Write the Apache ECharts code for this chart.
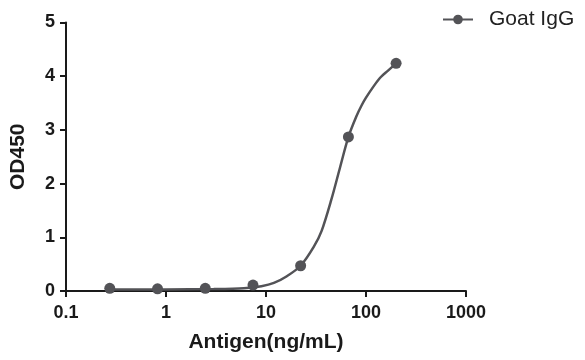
<!DOCTYPE html>
<html><head><meta charset="utf-8">
<script src="https://cdn.jsdelivr.net/npm/echarts@6/dist/echarts.min.js"></script>
<style>html,body{margin:0;padding:0;background:#fff}#c{width:585px;height:360px}</style>
</head><body><div id="c"></div>
<script>
const seriesName = 'Goat IgG';
const concentrations = [0.274, 0.823, 2.47, 7.41, 22.2, 66.7, 200];
const od450 = [0.05, 0.04, 0.05, 0.11, 0.47, 2.87, 4.24];
// fitted curve
const curveX = [0.274, 1, 3, 6, 9, 12, 16, 22.2, 30, 36, 45, 55, 66.7, 80, 90, 100, 120, 140, 165, 200];
const curveY = [0.03, 0.03, 0.035, 0.05, 0.09, 0.15, 0.27, 0.47, 0.82, 1.12, 1.70, 2.30, 2.87, 3.25, 3.45, 3.60, 3.82, 3.98, 4.10, 4.24];
const xTicks = [0.1, 1, 10, 100, 1000];
const yTicks = [0, 1, 2, 3, 4, 5];

const font = 'Liberation Sans, Arial, sans-serif';
const ink = '#1a1a1a';
const grey = '#535357';
const chart = echarts.init(document.getElementById('c'), null, {renderer: 'canvas'});
chart.setOption({
  animation: false,
  backgroundColor: '#fff',
  grid: {left: 62, right: 119, top: 22.5, bottom: 69, containLabel: false},
  legend: {
    data: [seriesName], left: 442, top: 9, itemWidth: 30, itemHeight: 12, itemGap: 10,
    padding: 0,
    textStyle: {fontFamily: font, fontSize: 21, color: '#222', padding: [0, 0, 0, 11]}
  },
  xAxis: {
    type: 'log', logBase: 10, min: xTicks[0], max: xTicks[xTicks.length - 1],
    name: 'Antigen(ng/mL)', nameLocation: 'middle', nameGap: 41,
    nameTextStyle: {fontFamily: font, fontSize: 21, fontWeight: 'bold', color: ink},
    axisLine: {lineStyle: {color: ink, width: 2}},
    axisTick: {show: true, inside: false, length: 6, lineStyle: {color: ink, width: 2}},
    minorTick: {show: false},
    splitLine: {show: false},
    axisLabel: {fontFamily: font, fontSize: 18, fontWeight: 'bold', color: ink, margin: 13,
      formatter: v => String(v)}
  },
  yAxis: {
    type: 'value', min: yTicks[0], max: yTicks[yTicks.length - 1], interval: 1,
    name: 'OD450', nameLocation: 'middle', nameGap: 37, nameRotate: 90,
    nameTextStyle: {fontFamily: font, fontSize: 21, fontWeight: 'bold', color: ink},
    axisLine: {show: true, lineStyle: {color: ink, width: 2}},
    axisTick: {show: true, inside: false, length: 6, lineStyle: {color: ink, width: 2}},
    splitLine: {show: false},
    axisLabel: {fontFamily: font, fontSize: 18, fontWeight: 'bold', color: ink, margin: 11}
  },
  series: [
    {
      name: seriesName, type: 'line', smooth: 0.3,
      symbol: 'circle', symbolSize: 10, showSymbol: false,
      itemStyle: {color: grey, opacity: 1},
      lineStyle: {color: grey, width: 2.5},
      data: curveX.map((x, i) => [x, curveY[i]]),
      z: 2
    },
    {
      name: seriesName, type: 'scatter', symbol: 'circle', symbolSize: 11,
      itemStyle: {color: grey, opacity: 1},
      data: concentrations.map((x, i) => [x, od450[i]]),
      z: 3
    }
  ]
});
</script></body></html>
